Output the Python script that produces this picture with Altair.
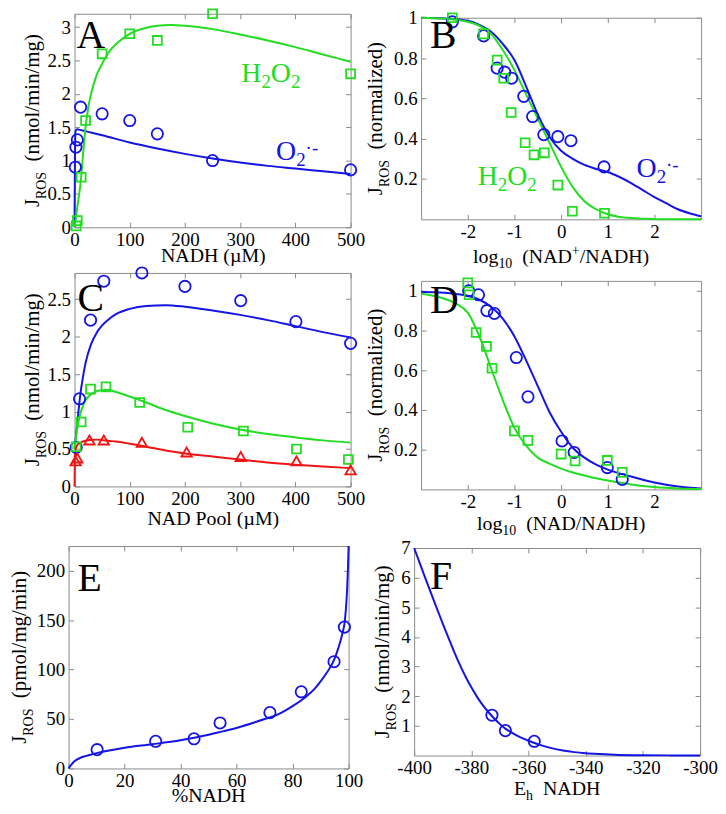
import altair as alt
import pandas as pd

FONT = "Liberation Serif"
BLUE = "#1414e6"
GREEN = "#22dd22"
RED = "#f01414"
GRAY = "#8a8a8a"

# ---------------- data ----------------
# Panel A
a_o2_x = [1.5, 2.5, 5, 11, 50, 100, 150, 250, 500]
a_o2_y = [0.9, 1.2, 1.31, 1.8, 1.7, 1.6, 1.4, 1.0, 0.86]
a_h2o2_x = [3, 5, 12, 20, 50, 100, 150, 250, 500]
a_h2o2_y = [0.02, 0.1, 0.75, 1.6, 2.6, 2.9, 2.8, 3.2, 2.3]
a_fit_h_x = [0, 2, 5, 10, 12, 15, 20, 25, 30, 40, 50, 60, 80, 100, 125, 150, 175, 200, 250, 300, 350, 400, 450, 500]
a_fit_h_y = [0, 0.1, 0.3, 0.6, 0.75, 1.05, 1.5, 1.8, 2.0, 2.28, 2.45, 2.6, 2.78, 2.9, 2.98, 3.02, 3.03, 3.02, 2.97, 2.89, 2.8, 2.7, 2.59, 2.48]
a_fit_o_x = [0, 0.5, 1, 2, 5, 10, 25, 50, 100, 150, 200, 250, 300, 350, 400, 450, 500]
a_fit_o_y = [0, 0.7, 1.2, 1.45, 1.47, 1.46, 1.43, 1.38, 1.27, 1.18, 1.1, 1.03, 0.97, 0.92, 0.88, 0.84, 0.80]

# Panel B
b_o2_x = [-2.33, -1.66, -1.37, -1.21, -1.06, -0.80, -0.61, -0.37, -0.07, 0.21, 0.92]
b_o2_y = [0.98, 0.91, 0.75, 0.73, 0.70, 0.61, 0.51, 0.42, 0.41, 0.39, 0.26]
b_h2o2_x = [-2.33, -1.66, -1.37, -1.23, -1.07, -0.77, -0.58, -0.36, -0.07, 0.24, 0.93]
b_h2o2_y = [1.0, 0.92, 0.79, 0.70, 0.53, 0.38, 0.32, 0.33, 0.17, 0.04, 0.03]
b_fit_x = [-3, -2.5, -2, -1.75, -1.5, -1.25, -1, -0.75, -0.5, -0.25, 0, 0.25, 0.5, 0.75, 1, 1.25, 1.5, 1.75, 2, 2.25, 2.5, 2.75, 3]
b_fit_h = [1.0, 0.995, 0.98, 0.96, 0.92, 0.84, 0.74, 0.62, 0.5, 0.38, 0.26, 0.16, 0.09, 0.05, 0.025, 0.012, 0.006, 0.003, 0.001, 0, 0, 0, 0]
b_fit_o = [1.0, 0.996, 0.985, 0.965, 0.93, 0.87, 0.79, 0.66, 0.52, 0.41, 0.34, 0.3, 0.27, 0.25, 0.235, 0.21, 0.18, 0.145, 0.11, 0.08, 0.05, 0.03, 0.015]

# Panel C
c_o2_x = [3, 9, 29, 53, 122, 200, 301, 401, 500]
c_o2_y = [0.52, 1.17, 2.22, 2.74, 2.85, 2.67, 2.48, 2.2, 1.91]
c_h2o2_x = [3, 12, 29, 57, 118, 205, 306, 402, 496]
c_h2o2_y = [0.53, 0.86, 1.30, 1.33, 1.12, 0.79, 0.74, 0.50, 0.36]
c_tri_x = [2, 5, 27, 53, 122, 203, 301, 402, 500]
c_tri_y = [0.34, 0.38, 0.62, 0.62, 0.59, 0.46, 0.40, 0.34, 0.22]
c_fit_x = [0, 0.5, 1, 2, 3, 5, 7, 10, 15, 20, 30, 40, 50, 60, 75, 100, 130, 165, 200, 250, 300, 350, 400, 450, 500]
c_fit_o = [0.5, 0.53, 0.57, 0.63, 0.7, 0.85, 0.99, 1.2, 1.45, 1.65, 1.9, 2.05, 2.15, 2.22, 2.3, 2.37, 2.41, 2.42, 2.4, 2.35, 2.29, 2.22, 2.14, 2.06, 1.99]
c_fit_h = [0.5, 0.53, 0.56, 0.62, 0.68, 0.78, 0.86, 0.96, 1.07, 1.15, 1.23, 1.27, 1.285, 1.29, 1.26, 1.2, 1.12, 1.02, 0.94, 0.84, 0.76, 0.7, 0.655, 0.615, 0.585]
c_fit_r = [0, 0.3, 0.45, 0.5, 0.52, 0.55, 0.57, 0.58, 0.6, 0.61, 0.62, 0.625, 0.62, 0.61, 0.6, 0.57, 0.53, 0.48, 0.44, 0.4, 0.36, 0.32, 0.29, 0.265, 0.245]

# Panel D
d_o2_x = [-1.98, -1.77, -1.59, -1.43, -0.96, -0.71, 0.02, 0.28, 0.99, 1.31]
d_o2_y = [1.0, 0.98, 0.90, 0.886, 0.664, 0.466, 0.244, 0.186, 0.11, 0.05]
d_h2o2_x = [-2.0, -1.97, -1.82, -1.6, -1.48, -1.0, -0.71, 0.0, 0.3, 0.99, 1.31]
d_h2o2_y = [1.04, 0.98, 0.79, 0.72, 0.61, 0.295, 0.247, 0.178, 0.143, 0.146, 0.086]
d_fit_x = [-3, -2.75, -2.5, -2.25, -2, -1.75, -1.5, -1.25, -1, -0.75, -0.5, -0.25, 0, 0.25, 0.5, 0.75, 1, 1.5, 2, 2.5, 3]
d_fit_o = [0.995, 0.993, 0.99, 0.984, 0.975, 0.955, 0.92, 0.86, 0.77, 0.65, 0.52, 0.39, 0.29, 0.21, 0.16, 0.125, 0.1, 0.065, 0.035, 0.015, 0.005]
d_fit_h = [0.985, 0.975, 0.96, 0.935, 0.89, 0.77, 0.61, 0.45, 0.31, 0.22, 0.16, 0.13, 0.105, 0.085, 0.07, 0.056, 0.045, 0.025, 0.012, 0.005, 0.002]

# Panel E
e_x = [10.2, 31.1, 44.8, 54.1, 71.9, 83.1, 94.8, 98.5]
e_y = [19, 27.5, 30, 46, 56.5, 77.5, 108, 143]
e_fit_x = [0, 1, 2, 4, 6, 10, 15, 20, 30, 40, 50, 55, 60, 70, 75, 80, 85, 88, 90, 92, 94, 95, 96, 97, 98, 98.5, 99, 99.5, 99.8, 100]
e_fit_y = [0, 4, 7, 10.5, 12.5, 15.5, 18.5, 21, 24.5, 28.5, 34, 37.5, 41, 50, 55, 63, 73, 81, 88, 96, 105, 111, 119, 128, 139, 146, 160, 183, 205, 225]

# Panel F
f_x = [-372.8, -368.1, -358]
f_y = [1.36, 0.84, 0.48]
f_fit_x = [-400, -398, -396, -394, -392, -390, -388, -386, -384, -382, -380, -378, -376, -374, -372, -370, -368, -366, -364, -362, -360, -356, -352, -348, -344, -340, -335, -330, -320, -310, -300]
f_fit_y = [7.0, 6.48, 5.96, 5.45, 4.95, 4.45, 3.97, 3.5, 3.06, 2.66, 2.3, 1.98, 1.7, 1.46, 1.25, 1.06, 0.9, 0.78, 0.67, 0.58, 0.5, 0.36, 0.25, 0.17, 0.115, 0.078, 0.05, 0.03, 0.012, 0.005, 0.002]

# ---------------- helpers ----------------
W = 355
ROW_H = [254, 274, 270]
ONE = pd.DataFrame({"k": [0]})

METRIC = {'J': .389, 'R': .667, 'O': .722, 'S': .556, ' ': .25, '(': .333, ')': .333,
          'n': .5, 'm': .778, 'o': .5, 'l': .278, '/': .278, 'i': .278, 'g': .5, 'r': .333,
          'a': .444, 'z': .444, 'e': .444, 'd': .5, 'p': .5, 'N': .722, 'A': .722, 'D': .722,
          'H': .722, 'E': .611, 'h': .5, '+': .564, '1': .5, '0': .5, '2': .5, '·': .25,
          '-': .333, '%': .833, 'P': .556, 'µ': .5, 'M': .889}


def tw(s, size):
    return sum(METRIC.get(ch, 0.5) for ch in s) * size


def rich(pieces, x, y, angle=0, color="black", anchor="center"):
    """Lay out text pieces (text, size, baseline shift) one after the other."""
    total = sum(tw(t, s) for t, s, d in pieces)
    out = []
    if angle == 0:
        cur = x - total / 2 if anchor == "center" else x
    else:
        cur = y + total / 2
    for t, s, d in pieces:
        lead = len(t) - len(t.lstrip(" "))
        body = t.lstrip(" ")
        adv = tw(" " * lead, s)
        if angle == 0:
            cur += adv
            out.append(alt.Chart(ONE).mark_text(text=body, align="left", baseline="alphabetic", font=FONT,
                                                fontSize=s, color=color)
                       .encode(x=alt.value(cur), y=alt.value(y + d)))
            cur += tw(body, s)
        else:
            cur -= adv
            out.append(alt.Chart(ONE).mark_text(text=body, angle=270, align="left", baseline="alphabetic",
                                                font=FONT, fontSize=s, color=color)
                       .encode(x=alt.value(x + d), y=alt.value(cur)))
            cur -= tw(body, s)
    return out


def df(xs, ys):
    return pd.DataFrame({"x": xs, "y": ys})


def panel(H, box, xdom, ydom, xt, yt, lines, points, letter, letter_xy, xtitle, ytitle, ytitle_x, xtitle_y, extra):
    l, r, t, b = box
    sx = alt.Scale(domain=xdom, range=[l, r], nice=False, zero=False)
    sy = alt.Scale(domain=ydom, range=[b, t], nice=False, zero=False)
    common_tick = dict(labels=False, ticks=True, tickSize=5, domain=True, domainColor=GRAY,
                       tickColor=GRAY, grid=False, title=None, domainWidth=1, tickWidth=1)
    lab = dict(ticks=False, tickSize=0, domain=False, grid=False, title=None, labelFont=FONT,
               labelFontSize=19, labelColor="black", labelExpr="'' + datum.value",
               labelOverlap=False, labelFlush=False)
    lab_x = alt.Axis(orient="bottom", offset=b - H, values=xt, labelPadding=3, **lab)
    lab_y = alt.Axis(orient="left", offset=-l, values=yt, labelPadding=4, **lab)
    tb = alt.Axis(orient="top", offset=-b, values=xt, **common_tick)
    tt = alt.Axis(orient="bottom", offset=t - H, values=xt, **common_tick)
    tl = alt.Axis(orient="right", offset=l - W, values=yt, **common_tick)
    tr = alt.Axis(orient="left", offset=-r, values=yt, **common_tick)

    base = lines[0][0]
    layers = []
    for ax_x, ax_y in [(lab_x, lab_y), (tb, tl), (tt, tr)]:
        layers.append(alt.Chart(base).mark_point(opacity=0).encode(
            x=alt.X("x:Q", scale=sx, axis=ax_x), y=alt.Y("y:Q", scale=sy, axis=ax_y)))
    for d, color in lines:
        layers.append(alt.Chart(d).mark_line(color=color, strokeWidth=2, interpolate="monotone").encode(
            x=alt.X("x:Q", scale=sx, axis=None), y=alt.Y("y:Q", scale=sy, axis=None)))
    for d, color, shape, size in points:
        layers.append(alt.Chart(d).mark_point(shape=shape, filled=False, color=color, size=size,
                                               strokeWidth=1.8, opacity=1).encode(
            x=alt.X("x:Q", scale=sx, axis=None), y=alt.Y("y:Q", scale=sy, axis=None)))
    layers.append(alt.Chart(ONE).mark_text(text=letter, align="left", baseline="alphabetic", font=FONT,
                                           fontSize=40, color="black")
                  .encode(x=alt.value(letter_xy[0]), y=alt.value(letter_xy[1])))
    layers += rich(xtitle, (l + r) / 2, xtitle_y)
    layers += rich(ytitle, ytitle_x, (t + b) / 2, angle=270)
    layers += extra
    return alt.layer(*layers).resolve_axis(x="independent", y="independent").properties(width=W, height=H)


YT_NMOL = [("J", 21, 0), ("ROS", 14, 7), ("  (nmol/min/mg)", 21, 0)]
YT_NORM = [("J", 21, 0), ("ROS", 14, 7), ("  (normalized)", 21, 0)]
YT_PMOL = [("J", 21, 0), ("ROS", 14, 7), ("  (pmol/mg/min)", 21, 0)]
H2O2 = [("H", 28, 0), ("2", 19, 6), ("O", 28, 0), ("2", 19, 6)]
O2 = [("O", 28, 0), ("2", 19, 6), ("·-", 19, -6)]

pA = panel(ROW_H[0], (64, 342, 3, 218), [0, 500], [0, 3.2],
           [0, 100, 200, 300, 400, 500], [0, 0.5, 1, 1.5, 2, 2.5, 3],
           [(df(a_fit_o_x, a_fit_o_y), BLUE), (df(a_fit_h_x, a_fit_h_y), GREEN)],
           [(df(a_o2_x, a_o2_y), BLUE, "circle", 130), (df(a_h2o2_x, a_h2o2_y), GREEN, "square", 80)],
           "A", (66, 37), [("NADH (µM)", 20, 0)], YT_NMOL, 28, 253,
           rich(H2O2, 232, 72, color=GREEN, anchor="left") + rich(O2, 267, 150, color=BLUE, anchor="left"))

pB = panel(ROW_H[0], (58, 340, 7, 210), [-3, 3], [0, 1],
           [-2, -1, 0, 1, 2], [0.2, 0.4, 0.6, 0.8, 1],
           [(df(b_fit_x, b_fit_o), BLUE), (df(b_fit_x, b_fit_h), GREEN)],
           [(df(b_o2_x, b_o2_y), BLUE, "circle", 130), (df(b_h2o2_x, b_h2o2_y), GREEN, "square", 80)],
           "B", (67, 37),
           [("log", 20, 0), ("10", 14, 5), ("  (NAD", 20, 0), ("+", 14, -8), ("/NADH)", 20, 0)],
           YT_NORM, 19, 254,
           rich(H2O2, 115, 175, color=GREEN, anchor="left") + rich(O2, 275, 167, color=BLUE, anchor="left"))

pC = panel(ROW_H[1], (64, 342, 10, 225), [0, 500], [0, 2.85],
           [0, 100, 200, 300, 400, 500], [0, 0.5, 1, 1.5, 2, 2.5],
           [(df(c_fit_x, c_fit_o), BLUE), (df(c_fit_x, c_fit_h), GREEN), (df(c_fit_x, c_fit_r), RED)],
           [(df(c_o2_x, c_o2_y), BLUE, "circle", 130), (df(c_h2o2_x, c_h2o2_y), GREEN, "square", 80),
            (df(c_tri_x, c_tri_y), RED, "triangle-up", 110)],
           "C", (67, 48), [("NAD Pool (µM)", 20, 0)], YT_NMOL, 28, 264, [])

pD = panel(ROW_H[1], (58, 340, 18, 228), [-3, 3], [0, 1.05],
           [-2, -1, 0, 1, 2], [0.2, 0.4, 0.6, 0.8, 1],
           [(df(d_fit_x, d_fit_o), BLUE), (df(d_fit_x, d_fit_h), GREEN)],
           [(df(d_o2_x, d_o2_y), BLUE, "circle", 130), (df(d_h2o2_x, d_h2o2_y), GREEN, "square", 80)],
           "D", (67, 50), [("log", 20, 0), ("10", 14, 5), ("  (NAD/NADH)", 20, 0)],
           YT_NORM, 19, 269, [])

pE = panel(ROW_H[2], (58, 340, 11, 235), [0, 100], [0, 225],
           [0, 20, 40, 60, 80, 100], [0, 50, 100, 150, 200],
           [(df(e_fit_x, e_fit_y), BLUE)],
           [(df(e_x, e_y), BLUE, "circle", 130)],
           "E", (67, 56), [("%NADH", 20, 0)], YT_PMOL, 15, 269, [])

pF = panel(ROW_H[2], (51, 339, 13, 222), [-400, -300], [0, 7],
           [-400, -380, -360, -340, -320, -300], [1, 2, 3, 4, 5, 6, 7],
           [(df(f_fit_x, f_fit_y), BLUE)],
           [(df(f_x, f_y), BLUE, "circle", 130)],
           "F", (67, 54), [("E", 20, 0), ("h", 14, 5), ("  NADH", 20, 0)], YT_NMOL, 26, 262, [])

chart = alt.concat(pA, pB, pC, pD, pE, pF, columns=2, spacing=0, bounds="flush").properties(
    padding={"top": -6, "left": 0, "right": 0, "bottom": -3}, background="white"
).configure_view(stroke=None)

chart.save("out.html", embed_options={"renderer": "svg", "actions": False})
